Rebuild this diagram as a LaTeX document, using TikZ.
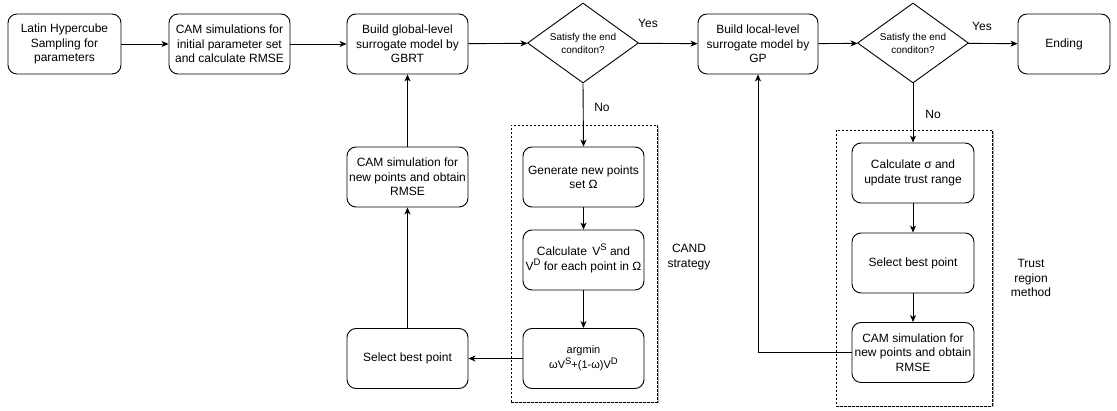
\documentclass[tikz,border=0pt]{standalone}
\usepackage{fontspec}
\setmainfont{Liberation Sans}
\usetikzlibrary{shapes.geometric,arrows.meta}
\newcommand\mysup[1]{\smash{\raisebox{0.42em}{\fontsize{9.5}{9.5}\selectfont #1}}}
\begin{document}
\begin{tikzpicture}[x=1pt,y=-1pt,
  box/.style={draw,rounded corners=9pt,line width=0.9pt,align=center,inner sep=0pt,
    minimum height=60pt,font=\fontsize{12}{14.5}\selectfont},
  dia/.style={draw,diamond,line width=0.9pt,align=center,inner sep=0pt,
    minimum width=111pt,minimum height=80pt,aspect=1.39,font=\fontsize{10}{13}\selectfont},
  grp/.style={draw,dash pattern=on 2.5pt off 1.5pt,line width=0.8pt},
  lbl/.style={font=\fontsize{12}{14.5}\selectfont,align=center,inner sep=0pt},
  arr/.style={-{Stealth[length=7pt,width=6pt,inset=2pt]},line width=0.9pt}]
\useasboundingbox (0,0) rectangle (1117,411);
% groups
\draw[gray!60,line width=1pt] (658,127) -- (658,403) -- (513,403);
\draw[gray!60,line width=1pt] (993,132) -- (993,407) -- (838,407);
\node[grp,minimum width=146pt,minimum height=277pt,inner sep=0pt] (gc) at (584,263.5) {};
\node[grp,minimum width=156pt,minimum height=276pt,inner sep=0pt] (gt) at (914,268) {};
% top row
\node[box,minimum width=113pt] (b1) at (64.5,44) {Latin Hypercube\\Sampling for\\parameters};
\node[box,minimum width=121pt] (b2) at (229.5,44) {CAM simulations for\\initial parameter set\\and calculate RMSE};
\node[box,minimum width=121pt] (b3) at (407.5,44) {Build global-level\\surrogate model by\\GBRT};
\node[dia] (d1) at (583,43) {Satisfy the end\\conditon?};
\node[box,minimum width=120pt] (b4) at (758,44) {Build local-level\\surrogate model by\\GP};
\node[dia] (d2) at (913,43) {Satisfy the end\\conditon?};
\node[box,minimum width=92pt] (end) at (1064,44) {Ending};
% CAND column
\node[box,minimum width=121pt] (gen) at (583.5,177) {Generate new points\\set Ω};
\node[box,minimum width=121pt] (calc) at (583.5,260) {Calculate \,V\mysup{S} and\\V\mysup{D} for each point in Ω};
\node[box,minimum width=121pt,font=\fontsize{11}{15}\selectfont] (argm) at (583.5,358.5) {argmin\\ωV\mysup{S}+(1-ω)V\mysup{D}};
% left column
\node[box,minimum width=121pt] (camL) at (407.5,177) {CAM simulation for\\new points and obtain\\RMSE};
\node[box,minimum width=121pt] (selL) at (407.5,358.5) {Select best point};
% trust column
\node[box,minimum width=122pt] (sig) at (913,173) {Calculate σ and\\update trust range};
\node[box,minimum width=122pt] (selT) at (913,263) {Select best point};
\node[box,minimum width=122pt] (camT) at (913,352.5) {CAM simulation for\\new points and obtain\\RMSE};
% labels
\node[lbl] (yes1) at (648,23) {Yes};
\node[lbl] (yes2) at (982,26) {Yes};
\node[lbl] (no1) at (602,107) {No};
\node[lbl] (no2) at (933,114) {No};
\node[lbl] (cand) at (689,257) {CAND\\strategy};
\node[lbl] (trl) at (1031,278) {Trust\\region\\method};
% connectors
\draw[arr] (b1) -- (b2);
\draw[arr] (b2) -- (b3);
\draw[arr] (b3) -- (d1);
\draw[arr] (d1) -- (b4);
\draw[arr] (b4) -- (d2);
\draw[arr] (d2) -- (end);
\draw[arr] (d1.south) -- (gen.north);
\draw[arr] (gen) -- (calc);
\draw[arr] (calc) -- (argm);
\draw[arr] (argm) -- (selL);
\draw[arr] (selL) -- (camL);
\draw[arr] (camL) -- (b3);
\draw[arr] (d2.south) -- (sig.north);
\draw[arr] (sig) -- (selT);
\draw[arr] (selT) -- (camT);
\draw[arr] (camT.west) -| (b4.south);
\end{tikzpicture}
\end{document}
